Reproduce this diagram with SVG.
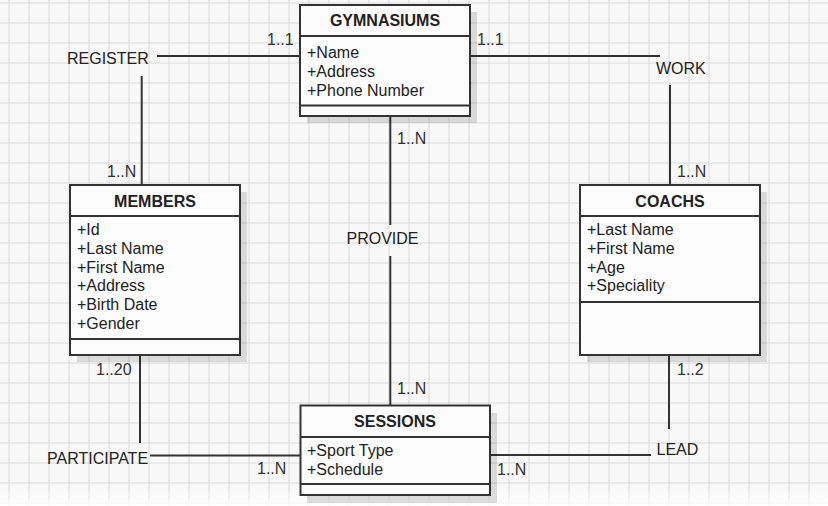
<svg xmlns="http://www.w3.org/2000/svg" width="828" height="506" viewBox="0 0 828 506">
<defs>
<pattern id="grid" x="8.5" y="2.5" width="20" height="20" patternUnits="userSpaceOnUse">
<path d="M0 0H20M0 0V20" fill="none" stroke="#d9d9d9" stroke-width="2"/>
</pattern>
<linearGradient id="fade" x1="0" y1="0" x2="0" y2="1">
<stop offset="0" stop-color="#fff" stop-opacity="0"/>
<stop offset="1" stop-color="#fff" stop-opacity="0.9"/>
</linearGradient>
</defs>
<style>
.box{fill:#fcfcfc;stroke:#333;stroke-width:2}
.sh{fill:#000;opacity:0.12}
.div{stroke:#333;stroke-width:2}
.title{font-family:"Liberation Sans",Arial,sans-serif;font-size:16px;font-weight:bold;fill:#222;text-anchor:middle}
.attr{font-family:"Liberation Sans",Arial,sans-serif;font-size:16px;fill:#222}
.lbl{font-family:"Liberation Sans",Arial,sans-serif;font-size:16px;fill:#222}
.mul{font-family:"Liberation Sans",Arial,sans-serif;font-size:16px;fill:#333}
.ln{fill:none;stroke:#333;stroke-width:2}
</style>
<rect width="828" height="506" fill="#f8f8f8"/>
<rect width="828" height="506" fill="url(#grid)"/>
<rect x="0" y="488" width="828" height="18" fill="url(#fade)"/>

<g id="connectors">
<path class="ln" d="M157 56H300"/>
<path class="ln" d="M141.7 76V185"/>
<path class="ln" d="M470 56H660"/>
<path class="ln" d="M670 85V185"/>
<path class="ln" d="M390.3 116V225"/>
<path class="ln" d="M390.3 256V405"/>
<path class="ln" d="M140 355V443"/>
<path class="ln" d="M150 455.5H300"/>
<path class="ln" d="M669 355V429"/>
<path class="ln" d="M490 455H651"/>
<text class="lbl" x="67" y="64">REGISTER</text>
<text class="lbl" x="656" y="74">WORK</text>
<text class="lbl" x="346.5" y="244">PROVIDE</text>
<text class="lbl" x="47" y="464">PARTICIPATE</text>
<text class="lbl" x="656.5" y="455">LEAD</text>
<text class="mul" x="267" y="45">1..1</text>
<text class="mul" x="477" y="45">1..1</text>
<text class="mul" x="107" y="177">1..N</text>
<text class="mul" x="677" y="177">1..N</text>
<text class="mul" x="397" y="144">1..N</text>
<text class="mul" x="397" y="394">1..N</text>
<text class="mul" x="96" y="374.5">1..20</text>
<text class="mul" x="677" y="375">1..2</text>
<text class="mul" x="257" y="474">1..N</text>
<text class="mul" x="497" y="474.5">1..N</text>
</g>

<g id="gymnasiums">
<rect class="sh" x="307" y="12" width="170" height="111"/>
<rect class="box" x="300" y="5" width="170" height="111"/>
<path class="div" d="M300 36H470M300 105.5H470"/>
<text class="title" x="385" y="26">GYMNASIUMS</text>
<text class="attr" x="307" y="57.5">+Name</text>
<text class="attr" x="307" y="76.5">+Address</text>
<text class="attr" x="307" y="95.5">+Phone Number</text>
</g>

<g id="members">
<rect class="sh" x="77" y="192" width="170" height="170"/>
<rect class="box" x="70" y="185" width="170" height="170"/>
<path class="div" d="M70 216H240M70 339H240"/>
<text class="title" x="155" y="206.5">MEMBERS</text>
<text class="attr" x="77" y="235">+Id</text>
<text class="attr" x="77" y="253.8">+Last Name</text>
<text class="attr" x="77" y="272.6">+First Name</text>
<text class="attr" x="77" y="291.4">+Address</text>
<text class="attr" x="77" y="310.2">+Birth Date</text>
<text class="attr" x="77" y="329">+Gender</text>
</g>

<g id="coachs">
<rect class="sh" x="587" y="192" width="180" height="170"/>
<rect class="box" x="580" y="185" width="180" height="170"/>
<path class="div" d="M580 216H760M580 302H760"/>
<text class="title" x="670" y="206.5">COACHS</text>
<text class="attr" x="587" y="235">+Last Name</text>
<text class="attr" x="587" y="253.8">+First Name</text>
<text class="attr" x="587" y="272.6">+Age</text>
<text class="attr" x="587" y="291.4">+Speciality</text>
</g>

<g id="sessions">
<rect class="sh" x="307" y="413" width="190" height="90"/>
<rect class="box" x="300.5" y="405.5" width="189.5" height="89.5"/>
<path class="div" d="M300.5 437H490M300.5 484H490"/>
<text class="title" x="395" y="426.7">SESSIONS</text>
<text class="attr" x="307" y="456">+Sport Type</text>
<text class="attr" x="307" y="474.5">+Schedule</text>
</g>
</svg>
